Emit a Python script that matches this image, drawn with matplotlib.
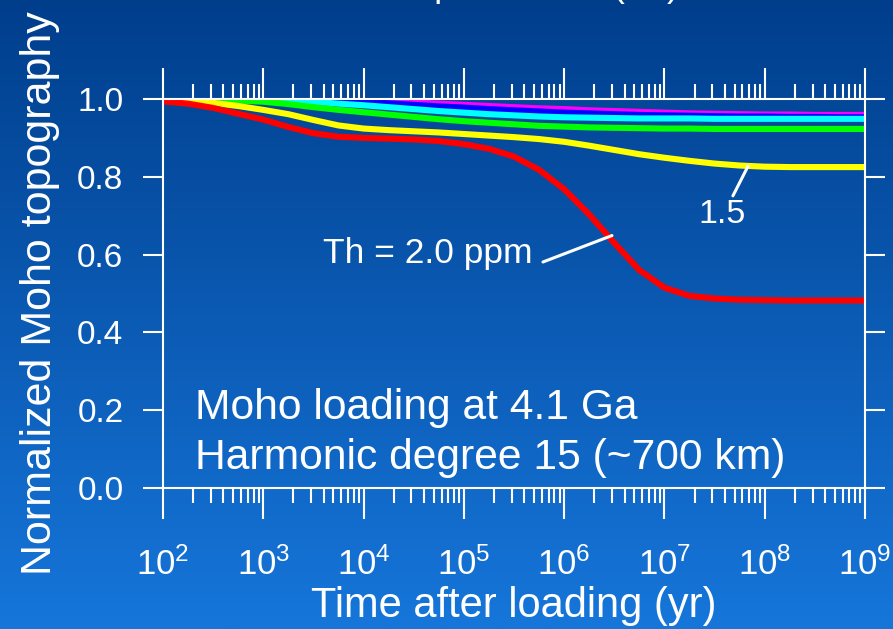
import numpy as np
import matplotlib.pyplot as plt
from matplotlib.ticker import LogLocator, NullLocator

plt.rcParams['font.family'] = ['Liberation Sans', 'DejaVu Sans']
plt.rcParams['mathtext.fontset'] = 'custom'
plt.rcParams['mathtext.rm'] = 'Liberation Sans'
plt.rcParams['mathtext.it'] = 'Liberation Sans:italic'

# time after loading, log10(yr)
log_t = [2.0, 2.25, 2.5, 2.75, 3.0, 3.25, 3.5, 3.75, 4.0, 4.25, 4.5, 4.75,
         5.0, 5.25, 5.5, 5.75, 6.0, 6.25, 6.5, 6.75, 7.0, 7.25, 7.5, 7.75,
         8.0, 8.25, 8.5, 8.75, 9.0]

# normalized Moho topography for each Th content
topo_magenta = [1.0, 1.0, 1.0, 1.0, 1.0, 0.9995, 0.999, 0.998, 0.996, 0.994, 0.991, 0.988,
                0.985, 0.982, 0.979, 0.976, 0.974, 0.971, 0.969, 0.967, 0.965, 0.963, 0.962, 0.961,
                0.960, 0.960, 0.959, 0.959, 0.959]
topo_blue = [1.0, 1.0, 1.0, 1.0, 0.999, 0.998, 0.997, 0.995, 0.992, 0.989, 0.985, 0.981,
             0.978, 0.974, 0.971, 0.968, 0.965, 0.963, 0.961, 0.959, 0.958, 0.957, 0.956, 0.955,
             0.955, 0.954, 0.954, 0.953, 0.953]
topo_cyan = [1.0, 1.0, 1.0, 0.999, 0.998, 0.996, 0.993, 0.988, 0.984, 0.979, 0.974, 0.969,
             0.965, 0.961, 0.958, 0.955, 0.953, 0.952, 0.951, 0.950, 0.950, 0.950, 0.949, 0.949,
             0.949, 0.949, 0.949, 0.949, 0.949]
topo_green = [1.0, 0.999, 0.998, 0.996, 0.993, 0.987, 0.979, 0.972, 0.966, 0.960, 0.954, 0.948,
              0.943, 0.939, 0.935, 0.931, 0.929, 0.927, 0.926, 0.925, 0.924, 0.924, 0.923, 0.923,
              0.923, 0.923, 0.923, 0.923, 0.923]
topo_yellow = [0.999, 0.996, 0.990, 0.982, 0.972, 0.961, 0.946, 0.932, 0.924, 0.920, 0.917, 0.914,
               0.910, 0.906, 0.902, 0.897, 0.890, 0.880, 0.869, 0.858, 0.849, 0.841, 0.834, 0.829,
               0.826, 0.825, 0.825, 0.825, 0.825]
topo_red = [0.994, 0.988, 0.977, 0.962, 0.947, 0.928, 0.912, 0.903, 0.900, 0.898, 0.896, 0.892,
            0.884, 0.872, 0.852, 0.818, 0.768, 0.703, 0.630, 0.560, 0.515, 0.494, 0.487, 0.484,
            0.483, 0.482, 0.482, 0.482, 0.482]

t = 10.0 ** np.array(log_t)

fig = plt.figure(figsize=(8.93, 6.29), dpi=100)

# blue gradient backdrop
bg = fig.add_axes([0, 0, 1, 1], zorder=-10)
grad = np.linspace(0, 1, 256).reshape(-1, 1)
top_c = np.array([0, 62, 140]) / 255
bot_c = np.array([22, 118, 218]) / 255
img = top_c[None, None, :] * (1 - grad[..., None]) + bot_c[None, None, :] * grad[..., None]
bg.imshow(img, aspect='auto', extent=[0, 1, 0, 1], origin='upper')
bg.axis('off')

ax = fig.add_axes([163 / 893, 1 - 488 / 629, 702 / 893, 389 / 629])
ax.set_facecolor('none')

lw = 4.4
ax.plot(t, topo_magenta, color='#ff00ff', lw=lw, solid_capstyle='butt')
ax.plot(t, topo_blue, color='#0000ff', lw=lw, solid_capstyle='butt')
ax.plot(t, topo_cyan, color='#00ffff', lw=lw, solid_capstyle='butt')
ax.plot(t, topo_green, color='#00ff00', lw=lw, solid_capstyle='butt')
ax.plot(t, topo_yellow, color='#ffff00', lw=lw, solid_capstyle='butt')
ax.plot(t, topo_red, color='#ff0000', lw=lw, solid_capstyle='butt')

ax.set_xscale('log')
ax.set_xlim(1e2, 1e9)
ax.set_ylim(0, 1)
ax.xaxis.set_major_locator(LogLocator(base=10, numticks=20))
ax.xaxis.set_minor_locator(LogLocator(base=10, subs=np.arange(2, 10), numticks=20))
ax.set_yticks([0.0, 0.2, 0.4, 0.6, 0.8, 1.0])
ax.set_yticklabels(['0.0', '0.2', '0.4', '0.6', '0.8', '1.0'])
ax.yaxis.set_minor_locator(NullLocator())

for s in ax.spines.values():
    s.set_color('white')
    s.set_linewidth(1.5)

ax.tick_params(axis='x', which='major', direction='out', length=22, width=1.5,
               colors='white', top=True, labelsize=25, pad=21)
ax.tick_params(axis='x', which='minor', direction='out', length=11, width=1.5,
               colors='white', top=True)
ax.tick_params(axis='y', which='major', direction='out', length=14.5, width=1.5,
               colors='white', right=True, labelsize=24, pad=14)

ax.set_xlabel('Time after loading (yr)', color='white', fontsize=30, labelpad=3)
ax.set_ylabel('Normalized Moho topography', color='white', fontsize=31, labelpad=12)

ax.text(10 ** 2.32, 0.206, 'Moho loading at 4.1 Ga', color='white', fontsize=30.7,
        va='center', ha='left')
ax.text(10 ** 2.32, 0.077, 'Harmonic degree 15 (~700 km)', color='white', fontsize=30.7,
        va='center', ha='left')

# curve labels with leader lines
ax.text(10 ** 5.689, 0.604, 'Th = 2.0 ppm', color='white', fontsize=25.5,
        ha='right', va='center')
ax.annotate('', xy=(10 ** 6.477, 0.649), xytext=(10 ** 5.789, 0.581),
            arrowprops=dict(arrowstyle='-', color='white', lw=2.2,
                            shrinkA=0, shrinkB=0))
ax.text(10 ** 7.573, 0.702, '1.5', color='white', fontsize=24.5,
        ha='center', va='center')
ax.annotate('', xy=(10 ** 7.833, 0.827), xytext=(10 ** 7.683, 0.751),
            arrowprops=dict(arrowstyle='-', color='white', lw=2.2,
                            shrinkA=0, shrinkB=0))

fig.text(0.761, 1.006, 'Heat production (Th)', color='white', fontsize=26,
         ha='right', va='baseline')

fig.savefig('out.png', dpi=100)
